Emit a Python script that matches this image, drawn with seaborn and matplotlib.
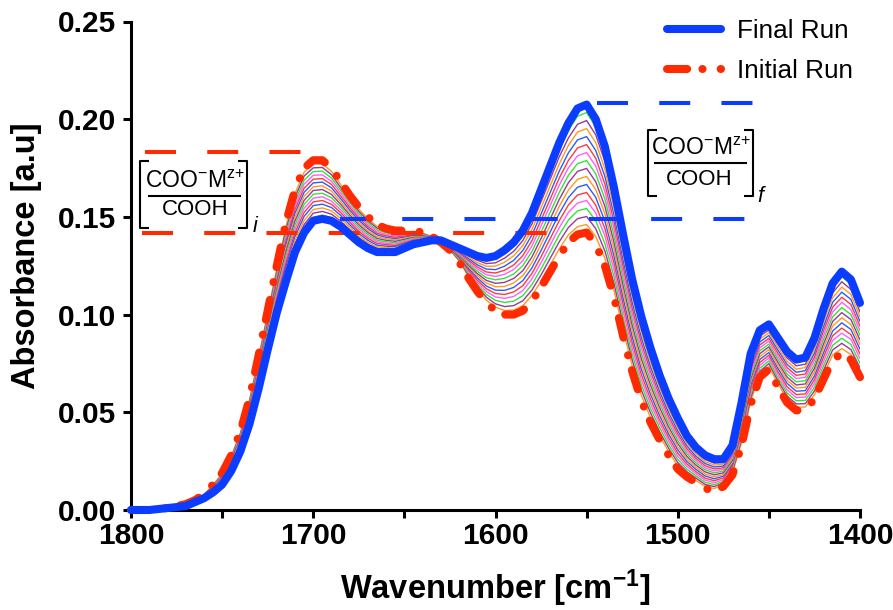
import matplotlib
matplotlib.use("Agg")
import matplotlib.pyplot as plt
import matplotlib.transforms as mtransforms
from matplotlib.lines import Line2D
import numpy as np
import pandas as pd
import seaborn as sns

# ------------------------------------------------------------------ data
wavenumber = [1800, 1790, 1780, 1770, 1765, 1760, 1755, 1750, 1745, 1740, 1735, 1730, 1725, 1720,
              1715, 1710, 1705, 1700, 1695, 1690, 1685, 1680, 1675, 1670, 1665, 1660, 1655, 1650,
              1645, 1640, 1635, 1630, 1625, 1620, 1615, 1610, 1605, 1600, 1595, 1590, 1585, 1580,
              1575, 1570, 1565, 1560, 1555, 1550, 1545, 1540, 1535, 1530, 1525, 1520, 1515, 1510,
              1505, 1500, 1495, 1490, 1485, 1480, 1475, 1470, 1465, 1460, 1455, 1450, 1445, 1440,
              1435, 1430, 1425, 1420, 1415, 1410, 1405, 1400]

initial_run = [0.000, 0.000, 0.001, 0.003, 0.005, 0.008, 0.013, 0.019, 0.028, 0.040, 0.057, 0.079, 0.102, 0.125,
               0.147, 0.164, 0.175, 0.179, 0.179, 0.175, 0.168, 0.161, 0.155, 0.150, 0.146, 0.144, 0.143, 0.143,
               0.143, 0.142, 0.140, 0.137, 0.133, 0.127, 0.119, 0.112, 0.106, 0.102, 0.100, 0.100, 0.102, 0.107,
               0.114, 0.122, 0.130, 0.137, 0.141, 0.142, 0.136, 0.125, 0.109, 0.089, 0.071, 0.056, 0.045, 0.036,
               0.028, 0.021, 0.017, 0.014, 0.011, 0.010, 0.012, 0.018, 0.033, 0.054, 0.068, 0.072, 0.063, 0.055,
               0.051, 0.051, 0.057, 0.067, 0.077, 0.080, 0.077, 0.068]

final_run = [0.000, 0.000, 0.001, 0.002, 0.004, 0.006, 0.009, 0.013, 0.020, 0.030, 0.044, 0.062, 0.082, 0.101,
             0.117, 0.132, 0.142, 0.148, 0.149, 0.148, 0.145, 0.141, 0.137, 0.134, 0.132, 0.132, 0.132, 0.134,
             0.136, 0.137, 0.138, 0.138, 0.136, 0.134, 0.132, 0.130, 0.129, 0.130, 0.133, 0.137, 0.143, 0.152,
             0.164, 0.176, 0.188, 0.198, 0.2055, 0.2075, 0.200, 0.186, 0.165, 0.141, 0.118, 0.099, 0.083, 0.069,
             0.057, 0.047, 0.038, 0.032, 0.028, 0.026, 0.026, 0.033, 0.055, 0.080, 0.092, 0.095, 0.088, 0.081,
             0.077, 0.078, 0.088, 0.103, 0.116, 0.122, 0.118, 0.106]

run_02 = [0.0, 0.0, 0.0010, 0.0029, 0.0049, 0.0079, 0.0128, 0.0186, 0.0275, 0.0394, 0.0562, 0.0779, 0.1008, 0.1235, 0.1451, 0.1620, 0.1729, 0.1771, 0.1771, 0.1733, 0.1666, 0.1598, 0.1539, 0.1490, 0.1451, 0.1433, 0.1423, 0.1424, 0.1426, 0.1417, 0.1399, 0.1371, 0.1332, 0.1274, 0.1198, 0.1131, 0.1074, 0.1038, 0.1021, 0.1023, 0.1046, 0.1098, 0.1171, 0.1254, 0.1336, 0.1408, 0.1450, 0.1461, 0.1400, 0.1288, 0.1125, 0.0923, 0.0739, 0.0587, 0.0474, 0.0381, 0.0298, 0.0226, 0.0183, 0.0151, 0.0121, 0.0110, 0.0129, 0.0189, 0.0344, 0.0556, 0.0695, 0.0734, 0.0646, 0.0566, 0.0526, 0.0527, 0.0589, 0.0693, 0.0794, 0.0826, 0.0796, 0.0704]
run_03 = [0.0, 0.0, 0.0010, 0.0029, 0.0049, 0.0078, 0.0125, 0.0183, 0.0270, 0.0388, 0.0554, 0.0769, 0.0995, 0.1220, 0.1433, 0.1600, 0.1709, 0.1751, 0.1753, 0.1716, 0.1651, 0.1585, 0.1528, 0.1480, 0.1443, 0.1425, 0.1416, 0.1419, 0.1421, 0.1414, 0.1398, 0.1371, 0.1334, 0.1279, 0.1206, 0.1143, 0.1089, 0.1055, 0.1041, 0.1046, 0.1071, 0.1126, 0.1203, 0.1288, 0.1373, 0.1446, 0.1491, 0.1502, 0.1440, 0.1326, 0.1160, 0.0955, 0.0769, 0.0614, 0.0498, 0.0401, 0.0316, 0.0243, 0.0196, 0.0163, 0.0131, 0.0120, 0.0138, 0.0199, 0.0358, 0.0573, 0.0710, 0.0749, 0.0661, 0.0583, 0.0543, 0.0544, 0.0609, 0.0715, 0.0819, 0.0853, 0.0821, 0.0728]
run_04 = [0.0, 0.0, 0.0010, 0.0028, 0.0048, 0.0076, 0.0123, 0.0179, 0.0265, 0.0381, 0.0546, 0.0758, 0.0983, 0.1205, 0.1414, 0.1580, 0.1688, 0.1732, 0.1734, 0.1699, 0.1637, 0.1573, 0.1516, 0.1470, 0.1434, 0.1418, 0.1409, 0.1413, 0.1417, 0.1411, 0.1396, 0.1372, 0.1336, 0.1283, 0.1214, 0.1154, 0.1103, 0.1073, 0.1062, 0.1069, 0.1097, 0.1154, 0.1234, 0.1321, 0.1409, 0.1484, 0.1531, 0.1543, 0.1480, 0.1364, 0.1195, 0.0988, 0.0798, 0.0641, 0.0521, 0.0422, 0.0334, 0.0259, 0.0209, 0.0174, 0.0142, 0.0130, 0.0146, 0.0208, 0.0371, 0.0589, 0.0725, 0.0763, 0.0677, 0.0599, 0.0559, 0.0561, 0.0628, 0.0738, 0.0843, 0.0879, 0.0847, 0.0751]
run_05 = [0.0, 0.0, 0.0010, 0.0028, 0.0048, 0.0075, 0.0120, 0.0175, 0.0260, 0.0375, 0.0538, 0.0748, 0.0970, 0.1190, 0.1395, 0.1560, 0.1668, 0.1713, 0.1715, 0.1683, 0.1623, 0.1560, 0.1505, 0.1460, 0.1425, 0.1410, 0.1403, 0.1408, 0.1413, 0.1408, 0.1395, 0.1373, 0.1338, 0.1288, 0.1223, 0.1165, 0.1118, 0.1090, 0.1083, 0.1093, 0.1123, 0.1183, 0.1265, 0.1355, 0.1445, 0.1523, 0.1571, 0.1584, 0.1520, 0.1403, 0.1230, 0.1020, 0.0828, 0.0668, 0.0545, 0.0443, 0.0353, 0.0275, 0.0223, 0.0185, 0.0153, 0.0140, 0.0155, 0.0218, 0.0385, 0.0605, 0.0740, 0.0778, 0.0693, 0.0615, 0.0575, 0.0578, 0.0648, 0.0760, 0.0868, 0.0905, 0.0873, 0.0775]
run_06 = [0.0, 0.0, 0.0010, 0.0027, 0.0047, 0.0074, 0.0118, 0.0171, 0.0255, 0.0369, 0.0529, 0.0737, 0.0958, 0.1175, 0.1376, 0.1540, 0.1647, 0.1693, 0.1696, 0.1666, 0.1608, 0.1548, 0.1494, 0.1450, 0.1416, 0.1403, 0.1396, 0.1402, 0.1408, 0.1404, 0.1394, 0.1373, 0.1339, 0.1292, 0.1231, 0.1176, 0.1132, 0.1108, 0.1103, 0.1116, 0.1148, 0.1211, 0.1296, 0.1389, 0.1481, 0.1561, 0.1612, 0.1625, 0.1560, 0.1441, 0.1265, 0.1053, 0.0857, 0.0694, 0.0569, 0.0463, 0.0371, 0.0291, 0.0236, 0.0196, 0.0163, 0.0150, 0.0164, 0.0227, 0.0399, 0.0621, 0.0755, 0.0792, 0.0708, 0.0631, 0.0591, 0.0594, 0.0667, 0.0783, 0.0892, 0.0931, 0.0898, 0.0799]
run_07 = [0.0, 0.0, 0.0010, 0.0026, 0.0046, 0.0073, 0.0115, 0.0168, 0.0250, 0.0363, 0.0521, 0.0726, 0.0945, 0.1160, 0.1358, 0.1520, 0.1626, 0.1674, 0.1678, 0.1649, 0.1594, 0.1535, 0.1483, 0.1440, 0.1408, 0.1395, 0.1389, 0.1396, 0.1404, 0.1401, 0.1393, 0.1374, 0.1341, 0.1296, 0.1239, 0.1188, 0.1146, 0.1125, 0.1124, 0.1139, 0.1174, 0.1239, 0.1328, 0.1423, 0.1518, 0.1599, 0.1652, 0.1666, 0.1600, 0.1479, 0.1300, 0.1085, 0.0886, 0.0721, 0.0593, 0.0484, 0.0389, 0.0308, 0.0249, 0.0208, 0.0174, 0.0160, 0.0173, 0.0236, 0.0413, 0.0638, 0.0770, 0.0806, 0.0724, 0.0648, 0.0608, 0.0611, 0.0686, 0.0805, 0.0916, 0.0958, 0.0924, 0.0823]
run_08 = [0.0, 0.0, 0.0010, 0.0026, 0.0046, 0.0071, 0.0113, 0.0164, 0.0245, 0.0356, 0.0513, 0.0716, 0.0933, 0.1145, 0.1339, 0.1500, 0.1606, 0.1654, 0.1659, 0.1632, 0.1579, 0.1523, 0.1471, 0.1430, 0.1399, 0.1388, 0.1382, 0.1391, 0.1399, 0.1398, 0.1391, 0.1374, 0.1343, 0.1301, 0.1247, 0.1199, 0.1161, 0.1143, 0.1144, 0.1162, 0.1199, 0.1267, 0.1359, 0.1456, 0.1554, 0.1637, 0.1692, 0.1707, 0.1640, 0.1517, 0.1335, 0.1118, 0.0916, 0.0748, 0.0616, 0.0504, 0.0407, 0.0324, 0.0262, 0.0219, 0.0184, 0.0170, 0.0181, 0.0246, 0.0426, 0.0654, 0.0785, 0.0821, 0.0739, 0.0664, 0.0624, 0.0628, 0.0706, 0.0828, 0.0941, 0.0984, 0.0949, 0.0846]
run_09 = [0.0, 0.0, 0.0010, 0.0025, 0.0045, 0.0070, 0.0110, 0.0160, 0.0240, 0.0350, 0.0505, 0.0705, 0.0920, 0.1130, 0.1320, 0.1480, 0.1585, 0.1635, 0.1640, 0.1615, 0.1565, 0.1510, 0.1460, 0.1420, 0.1390, 0.1380, 0.1375, 0.1385, 0.1395, 0.1395, 0.1390, 0.1375, 0.1345, 0.1305, 0.1255, 0.1210, 0.1175, 0.1160, 0.1165, 0.1185, 0.1225, 0.1295, 0.1390, 0.1490, 0.1590, 0.1675, 0.1733, 0.1748, 0.1680, 0.1555, 0.1370, 0.1150, 0.0945, 0.0775, 0.0640, 0.0525, 0.0425, 0.0340, 0.0275, 0.0230, 0.0195, 0.0180, 0.0190, 0.0255, 0.0440, 0.0670, 0.0800, 0.0835, 0.0755, 0.0680, 0.0640, 0.0645, 0.0725, 0.0850, 0.0965, 0.1010, 0.0975, 0.0870]
run_10 = [0.0, 0.0, 0.0010, 0.0024, 0.0044, 0.0069, 0.0108, 0.0156, 0.0235, 0.0344, 0.0497, 0.0694, 0.0908, 0.1115, 0.1301, 0.1460, 0.1564, 0.1616, 0.1621, 0.1598, 0.1551, 0.1498, 0.1449, 0.1410, 0.1381, 0.1373, 0.1368, 0.1379, 0.1391, 0.1392, 0.1389, 0.1376, 0.1347, 0.1309, 0.1263, 0.1221, 0.1189, 0.1178, 0.1186, 0.1208, 0.1251, 0.1323, 0.1421, 0.1524, 0.1626, 0.1713, 0.1773, 0.1788, 0.1720, 0.1593, 0.1405, 0.1183, 0.0974, 0.0802, 0.0664, 0.0546, 0.0443, 0.0356, 0.0288, 0.0241, 0.0206, 0.0190, 0.0199, 0.0264, 0.0454, 0.0686, 0.0815, 0.0849, 0.0771, 0.0696, 0.0656, 0.0662, 0.0744, 0.0873, 0.0989, 0.1036, 0.1001, 0.0894]
run_11 = [0.0, 0.0, 0.0010, 0.0024, 0.0044, 0.0068, 0.0105, 0.0153, 0.0230, 0.0338, 0.0489, 0.0684, 0.0895, 0.1100, 0.1283, 0.1440, 0.1544, 0.1596, 0.1603, 0.1581, 0.1536, 0.1485, 0.1438, 0.1400, 0.1373, 0.1365, 0.1361, 0.1374, 0.1386, 0.1389, 0.1388, 0.1376, 0.1349, 0.1314, 0.1271, 0.1233, 0.1204, 0.1195, 0.1206, 0.1231, 0.1276, 0.1351, 0.1453, 0.1558, 0.1663, 0.1751, 0.1813, 0.1829, 0.1760, 0.1631, 0.1440, 0.1215, 0.1004, 0.0829, 0.0688, 0.0566, 0.0461, 0.0373, 0.0301, 0.0253, 0.0216, 0.0200, 0.0208, 0.0274, 0.0468, 0.0703, 0.0830, 0.0864, 0.0786, 0.0713, 0.0673, 0.0679, 0.0764, 0.0895, 0.1014, 0.1063, 0.1026, 0.0918]
run_12 = [0.0, 0.0, 0.0010, 0.0023, 0.0043, 0.0066, 0.0103, 0.0149, 0.0225, 0.0331, 0.0481, 0.0673, 0.0883, 0.1085, 0.1264, 0.1420, 0.1523, 0.1577, 0.1584, 0.1564, 0.1522, 0.1473, 0.1426, 0.1390, 0.1364, 0.1358, 0.1354, 0.1368, 0.1382, 0.1386, 0.1386, 0.1377, 0.1351, 0.1318, 0.1279, 0.1244, 0.1218, 0.1213, 0.1227, 0.1254, 0.1302, 0.1379, 0.1484, 0.1591, 0.1699, 0.1789, 0.1853, 0.1870, 0.1800, 0.1669, 0.1475, 0.1248, 0.1033, 0.0856, 0.0711, 0.0587, 0.0479, 0.0389, 0.0314, 0.0264, 0.0227, 0.0210, 0.0216, 0.0283, 0.0481, 0.0719, 0.0845, 0.0878, 0.0802, 0.0729, 0.0689, 0.0696, 0.0783, 0.0918, 0.1038, 0.1089, 0.1052, 0.0941]
run_13 = [0.0, 0.0, 0.0010, 0.0023, 0.0043, 0.0065, 0.0100, 0.0145, 0.0220, 0.0325, 0.0473, 0.0663, 0.0870, 0.1070, 0.1245, 0.1400, 0.1503, 0.1558, 0.1565, 0.1548, 0.1508, 0.1460, 0.1415, 0.1380, 0.1355, 0.1350, 0.1348, 0.1363, 0.1378, 0.1383, 0.1385, 0.1378, 0.1353, 0.1323, 0.1288, 0.1255, 0.1233, 0.1230, 0.1248, 0.1278, 0.1328, 0.1408, 0.1515, 0.1625, 0.1735, 0.1828, 0.1894, 0.1911, 0.1840, 0.1708, 0.1510, 0.1280, 0.1063, 0.0883, 0.0735, 0.0608, 0.0498, 0.0405, 0.0328, 0.0275, 0.0238, 0.0220, 0.0225, 0.0293, 0.0495, 0.0735, 0.0860, 0.0893, 0.0818, 0.0745, 0.0705, 0.0713, 0.0803, 0.0940, 0.1063, 0.1115, 0.1078, 0.0965]
run_14 = [0.0, 0.0, 0.0010, 0.0022, 0.0042, 0.0064, 0.0098, 0.0141, 0.0215, 0.0319, 0.0464, 0.0652, 0.0858, 0.1055, 0.1226, 0.1380, 0.1482, 0.1538, 0.1546, 0.1531, 0.1493, 0.1448, 0.1404, 0.1370, 0.1346, 0.1343, 0.1341, 0.1357, 0.1373, 0.1379, 0.1384, 0.1378, 0.1354, 0.1327, 0.1296, 0.1266, 0.1247, 0.1248, 0.1268, 0.1301, 0.1353, 0.1436, 0.1546, 0.1659, 0.1771, 0.1866, 0.1934, 0.1952, 0.1880, 0.1746, 0.1545, 0.1313, 0.1092, 0.0909, 0.0759, 0.0628, 0.0516, 0.0421, 0.0341, 0.0286, 0.0248, 0.0230, 0.0234, 0.0302, 0.0509, 0.0751, 0.0875, 0.0907, 0.0833, 0.0761, 0.0721, 0.0729, 0.0822, 0.0963, 0.1087, 0.1141, 0.1103, 0.0989]
run_15 = [0.0, 0.0, 0.0010, 0.0021, 0.0041, 0.0063, 0.0095, 0.0138, 0.0210, 0.0313, 0.0456, 0.0641, 0.0845, 0.1040, 0.1208, 0.1360, 0.1461, 0.1519, 0.1528, 0.1514, 0.1479, 0.1435, 0.1393, 0.1360, 0.1338, 0.1335, 0.1334, 0.1351, 0.1369, 0.1376, 0.1383, 0.1379, 0.1356, 0.1331, 0.1304, 0.1278, 0.1261, 0.1265, 0.1289, 0.1324, 0.1379, 0.1464, 0.1578, 0.1693, 0.1808, 0.1904, 0.1974, 0.1993, 0.1920, 0.1784, 0.1580, 0.1345, 0.1121, 0.0936, 0.0783, 0.0649, 0.0534, 0.0438, 0.0354, 0.0298, 0.0259, 0.0240, 0.0243, 0.0311, 0.0523, 0.0768, 0.0890, 0.0921, 0.0849, 0.0778, 0.0738, 0.0746, 0.0841, 0.0985, 0.1111, 0.1168, 0.1129, 0.1013]
run_16 = [0.0, 0.0, 0.0010, 0.0021, 0.0041, 0.0061, 0.0093, 0.0134, 0.0205, 0.0306, 0.0448, 0.0631, 0.0833, 0.1025, 0.1189, 0.1340, 0.1441, 0.1499, 0.1509, 0.1497, 0.1464, 0.1423, 0.1381, 0.1350, 0.1329, 0.1328, 0.1327, 0.1346, 0.1364, 0.1373, 0.1381, 0.1379, 0.1358, 0.1336, 0.1312, 0.1289, 0.1276, 0.1283, 0.1309, 0.1347, 0.1404, 0.1492, 0.1609, 0.1726, 0.1844, 0.1942, 0.2015, 0.2034, 0.1960, 0.1822, 0.1615, 0.1378, 0.1151, 0.0963, 0.0806, 0.0669, 0.0552, 0.0454, 0.0367, 0.0309, 0.0269, 0.0250, 0.0251, 0.0321, 0.0536, 0.0784, 0.0905, 0.0936, 0.0864, 0.0794, 0.0754, 0.0763, 0.0861, 0.1008, 0.1136, 0.1194, 0.1154, 0.1036]

intermediate_runs = [run_02, run_03, run_04, run_05, run_06, run_07, run_08, run_09,
                     run_10, run_11, run_12, run_13, run_14, run_15, run_16]
intermediate_names = ["run_%02d" % i for i in range(2, 17)]

# reference levels of the COO-/COOH ratio markers (absorbance)
initial_ratio_levels = [0.183, 0.142]
final_ratio_levels = [0.2085, 0.149]

series_labels = ["Final Run", "Initial Run"]
x_ticks = [1800, 1700, 1600, 1500, 1400]
x_minor_ticks = [1750, 1650, 1550, 1450]
y_ticks = [0.00, 0.05, 0.10, 0.15, 0.20, 0.25]
y_tick_labels = ["0.00", "0.05", "0.10", "0.15", "0.20", "0.25"]
x_label = r"Wavenumber [cm$^{\mathbf{-1}}$]"
y_label = "Absorbance [a.u]"
ratio_top = r"COO$^{\mathrm{-}}$M$^{\mathrm{z{+}}}$"
ratio_bottom = "COOH"
ratio_subscripts = ["i", "f"]

# ------------------------------------------------------------------ style
FINAL_COLOR = "#0A3DFF"
INITIAL_COLOR = "#FF2A00"
cycle = ["#FF9A1F", "#983A98", "#35E335", "#FF5EFF", "#FF3A3A", "#2B5CFF"]
intermediate_colors = (cycle * 3)[:15]

sns.set_theme(style="ticks")
plt.rcParams["font.family"] = ["Liberation Sans", "DejaVu Sans"]
plt.rcParams["mathtext.fontset"] = "custom"
plt.rcParams["mathtext.rm"] = "Liberation Sans"
plt.rcParams["mathtext.it"] = "Liberation Sans:italic"
plt.rcParams["mathtext.bf"] = "Liberation Sans:bold"
for k in ["text.color", "axes.labelcolor", "xtick.color", "ytick.color", "axes.edgecolor"]:
    plt.rcParams[k] = "black"

W, H = 893, 610
fig = plt.figure(figsize=(W / 100, H / 100), dpi=100)
fig.patch.set_facecolor("white")
ax = fig.add_axes([131 / W, 1 - 510 / H, 729 / W, 488.5 / H])
ax.set_facecolor("white")

mid_df = pd.DataFrame({
    "wavenumber": np.tile(wavenumber, len(intermediate_runs)),
    "absorbance": np.concatenate(intermediate_runs),
    "run": np.repeat(intermediate_names, len(wavenumber)),
})
sns.lineplot(data=mid_df, x="wavenumber", y="absorbance", hue="run", hue_order=intermediate_names,
             palette=intermediate_colors, estimator=None, linewidth=1.0, legend=False, ax=ax, zorder=3)

sns.lineplot(x=wavenumber, y=initial_run, color=INITIAL_COLOR, linewidth=5.8, estimator=None, ax=ax, zorder=5)
initial_line = ax.lines[-1]
initial_line.set_dashes([2.5, 1.9, 0.01, 2.25])
initial_line.set_dash_capstyle("round")
initial_line.set_clip_on(False)

sns.lineplot(x=wavenumber, y=final_run, color=FINAL_COLOR, linewidth=5.8, estimator=None, ax=ax, zorder=6)
final_line = ax.lines[-1]
final_line.set_solid_capstyle("round")
final_line.set_solid_joinstyle("round")
final_line.set_clip_on(False)

# dashed reference levels
ref_kw = dict(lw=2.9, dash_capstyle="butt", clip_on=False, zorder=4, ls=(0, (7.7, 7.75)))
ax.plot([1792.3, 1703.4], [initial_ratio_levels[0]] * 2, color=INITIAL_COLOR, **ref_kw)
ax.plot([1794.0, 1564.4], [initial_ratio_levels[1]] * 2, color=INITIAL_COLOR, **ref_kw)
ax.plot([1544.3, 1455.4], [final_ratio_levels[0]] * 2, color=FINAL_COLOR, **ref_kw)
ax.plot([1685.3, 1455.4], [final_ratio_levels[1]] * 2, color=FINAL_COLOR, **ref_kw)

# axes
ax.set_xlim(1800, 1400)
ax.set_ylim(0, 0.25)
ax.set_xticks(x_ticks)
ax.set_xticklabels([str(t) for t in x_ticks])
ax.set_xticks(x_minor_ticks, minor=True)
ax.set_yticks(y_ticks)
ax.set_yticklabels(y_tick_labels)
ax.tick_params(axis="both", which="both", direction="out", length=5.8, width=2.2, color="black")
ax.tick_params(axis="x", which="major", labelsize=21.5, pad=3)
ax.tick_params(axis="y", labelsize=21.5, pad=5)
for lab in ax.get_xticklabels() + ax.get_yticklabels():
    lab.set_fontweight("bold")
sns.despine(ax=ax)
for s in ["left", "bottom"]:
    ax.spines[s].set_linewidth(2.2)
    ax.spines[s].set_color("black")

ax.set_xlabel(x_label, fontsize=23.5, fontweight="bold")
ax.set_ylabel(y_label, fontsize=23.5, fontweight="bold")
ax.xaxis.set_label_coords(0.5, -0.117)
ax.yaxis.set_label_coords(-0.122, 0.52)

# legend
leg = ax.legend(handles=[final_line, initial_line], labels=series_labels, loc="upper left",
                bbox_to_anchor=(667 / W, 1 - 19 / H), bbox_transform=fig.transFigure, frameon=False,
                fontsize=18.8, handlelength=2.07, handletextpad=0.6, labelspacing=0.63,
                borderpad=0, borderaxespad=0)

# ratio bracket annotations (pixel coordinates, y downwards)
T = mtransforms.Affine2D().scale(1, -1).translate(0, H)


def px_line(xs, ys, lw=1.5):
    fig.add_artist(Line2D(xs, ys, transform=T, lw=lw, color="black", solid_capstyle="butt"))


def ratio_box(x0, x1, y0, y1, top_x, top_base, frac_y, fx0, fx1, bot_x, bot_base, sub, sub_x, sub_base):
    px_line([x0 + 9, x0, x0, x0 + 9], [y0, y0, y1, y1])
    px_line([x1 - 9, x1, x1, x1 - 9], [y0, y0, y1, y1])
    fig.text(top_x, top_base, ratio_top, transform=T, ha="center", va="baseline", fontsize=16.5)
    px_line([fx0, fx1], [frac_y, frac_y], lw=1.5)
    fig.text(bot_x, bot_base, ratio_bottom, transform=T, ha="center", va="baseline", fontsize=16)
    fig.text(sub_x, sub_base, sub, transform=T, ha="left", va="baseline", fontsize=15.5, style="italic")


ratio_box(139.5, 247.3, 160.7, 228, 195, 188, 196, 148, 241, 195.5, 215, ratio_subscripts[0], 252.5, 232)
ratio_box(648.3, 753, 130, 196, 701, 155, 163.3, 654, 747, 699, 185, ratio_subscripts[1], 757.5, 201.5)

fig.savefig("out.png", dpi=100, facecolor="white")
